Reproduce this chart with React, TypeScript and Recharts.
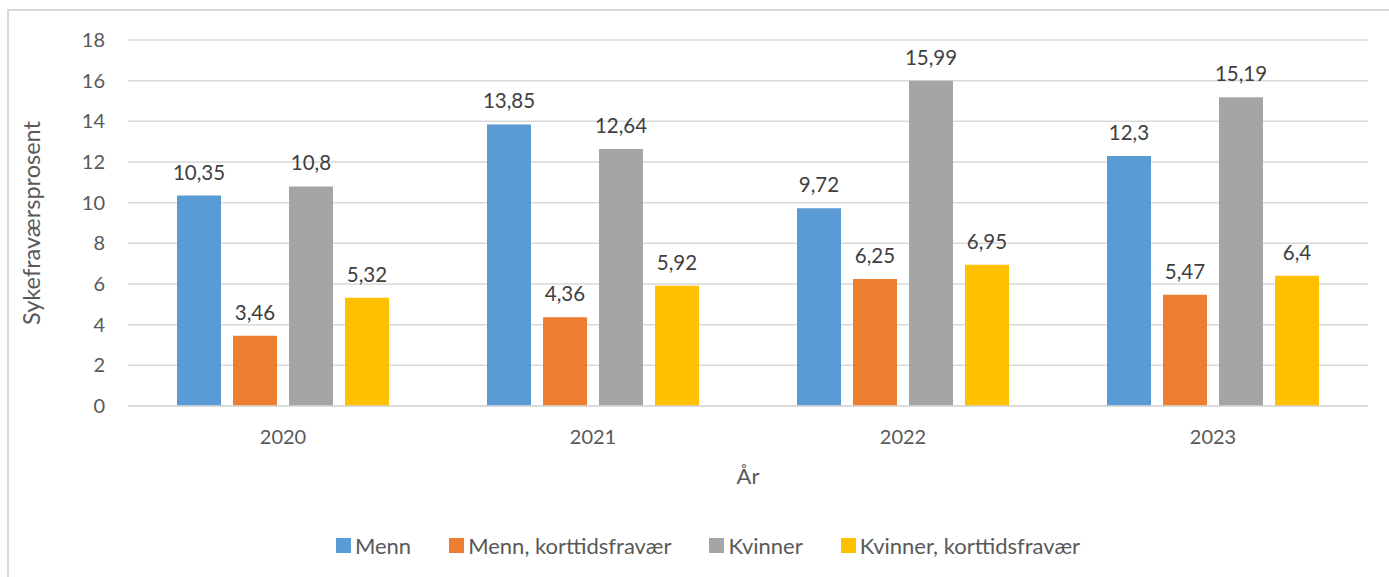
import { BarChart, Bar, XAxis, YAxis, CartesianGrid, Legend, LabelList } from "recharts";

const years = ["2020", "2021", "2022", "2023"];
const menn = [10.35, 13.85, 9.72, 12.3];
const mennKort = [3.46, 4.36, 6.25, 5.47];
const kvinner = [10.8, 12.64, 15.99, 15.19];
const kvinnerKort = [5.32, 5.92, 6.95, 6.4];
const yTicks = [0, 2, 4, 6, 8, 10, 12, 14, 16, 18];

const series = [
  { key: "menn", name: "Menn", color: "#5B9BD5" },
  { key: "mennKort", name: "Menn, korttidsfravær", color: "#ED7D31" },
  { key: "kvinner", name: "Kvinner", color: "#A5A5A5" },
  { key: "kvinnerKort", name: "Kvinner, korttidsfravær", color: "#FFC000" },
];

const data = years.map((year, i) => ({
  year,
  menn: menn[i],
  mennKort: mennKort[i],
  kvinner: kvinner[i],
  kvinnerKort: kvinnerKort[i],
}));

const FONT = "Lato, 'Open Sans', sans-serif";
const TEXT = "#595959";

const fmt = (v: any) => String(v).replace(".", ",");

function LegendContent() {
  return (
    <div style={{ display: "flex", justifyContent: "center", gap: 38, fontFamily: FONT, fontSize: 22, color: TEXT }}>
      {series.map((s) => (
        <div key={s.key} style={{ display: "flex", alignItems: "center" }}>
          <span style={{ display: "inline-block", width: 15, height: 15, background: s.color, marginRight: 4 }} />
          <span>{s.name}</span>
        </div>
      ))}
    </div>
  );
}

export default function App() {
  return (
    <div style={{ position: "absolute", left: 0, top: 0, width: 1389, height: 577, overflow: "hidden", background: "#fff" }}>
      <div
        style={{
          position: "absolute",
          left: 7,
          top: 9,
          width: 1420,
          height: 620,
          border: "2px solid #D9D9D9",
        }}
      />
      <div style={{ position: "absolute", left: 0, top: 0 }}>
        <BarChart
          width={1389}
          height={577}
          data={data}
          margin={{ top: 40, right: 21, left: 0, bottom: 141 }}
          barCategoryGap={49}
          barGap={12}
          style={{ fontFamily: FONT }}
        >
          <CartesianGrid vertical={false} stroke="#D9D9D9" strokeWidth={1.5} />
          <XAxis
            dataKey="year"
            height={30}
            tickSize={0}
            tickMargin={24}
            tickLine={false}
            axisLine={{ stroke: "#D9D9D9", strokeWidth: 1.5 }}
            tick={{ fill: TEXT, fontSize: 20 }}
            label={{ value: "År", position: "bottom", offset: 32, fill: TEXT, fontSize: 22 }}
          />
          <YAxis
            width={128}
            domain={[0, 18]}
            ticks={yTicks}
            tickSize={0}
            tickMargin={23}
            tickLine={false}
            axisLine={false}
            tick={{ fill: TEXT, fontSize: 20 }}
            label={{
              value: "Sykefraværsprosent",
              angle: -90,
              position: "insideLeft",
              offset: 32,
              fill: TEXT,
              fontSize: 23.5,
              style: { textAnchor: "middle" },
            }}
          />
          <Legend
            verticalAlign="middle"
            align="center"
            layout="horizontal"
            content={<LegendContent />}
            wrapperStyle={{ top: 532, left: 28, width: 1360 }}
          />
          {series.map((s) => (
            <Bar key={s.key} dataKey={s.key} name={s.name} fill={s.color} isAnimationActive={false}>
              <LabelList
                dataKey={s.key}
                position="top"
                offset={16}
                formatter={fmt}
                style={{ fill: "#404040", fontSize: 20.5, fontFamily: FONT }}
              />
            </Bar>
          ))}
        </BarChart>
      </div>
    </div>
  );
}
